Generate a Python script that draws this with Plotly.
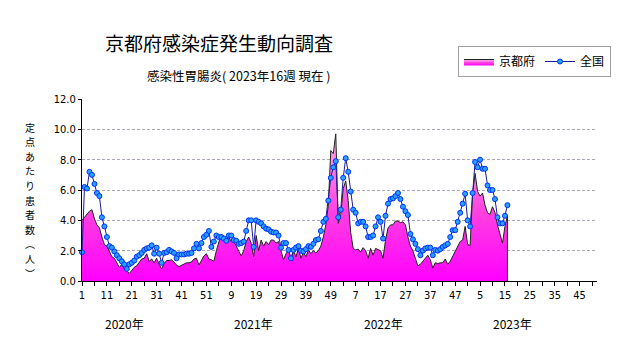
import plotly.graph_objects as go

# Weekly cases per sentinel site, 2020 wk1 .. 2023 wk16 (52 weeks per year on the axis)
kyoto = [
    4.0, 4.2, 4.4, 4.6, 4.7, 4.1, 3.7, 3.5, 2.9, 2.4,
    2.3, 2.0, 1.6, 1.5, 1.2, 0.9, 1.1, 0.8, 0.65, 0.5,
    0.7, 0.9, 1.0, 1.2, 1.45, 1.5, 1.8, 1.3, 1.45, 1.2,
    1.5, 1.1, 0.8, 1.15, 1.35, 1.35, 1.4, 1.25, 1.05, 0.95,
    1.05, 1.15, 1.2, 1.2, 1.25, 1.45, 1.5, 1.05, 1.35, 1.65,
    1.8, 1.45, 1.4, 1.3, 2.0, 2.6, 3.1, 2.7, 2.8, 2.9,
    2.6, 2.6, 2.3, 2.0, 1.65, 2.0, 2.6, 2.9, 2.5, 1.6,
    3.0, 2.0, 2.7, 2.3, 2.6, 2.4, 2.7, 2.7, 2.5, 2.6,
    2.05, 1.4, 1.8, 2.05, 1.4, 2.0, 1.6, 2.15, 1.5, 1.9,
    1.6, 2.05, 1.8, 2.0, 1.85, 2.0, 2.3, 2.9, 3.7, 5.0,
    8.6, 8.4, 9.7, 3.8, 4.4, 6.1, 6.6, 5.3, 3.2, 2.15,
    2.05, 2.1, 1.9, 2.2, 2.0, 1.5, 2.15, 1.7, 2.15, 2.1,
    2.0, 1.5, 2.7, 3.5, 3.7, 3.7, 3.95, 3.95, 3.85, 3.9,
    3.7, 2.9, 2.3, 2.0, 1.5, 1.0, 1.1, 1.3, 1.5, 1.7,
    1.4, 0.85, 1.2, 1.15, 1.2, 1.2, 1.45, 1.1, 1.3, 1.6,
    2.0, 2.3, 2.6, 2.7, 3.6, 2.4, 2.35, 5.8, 7.1, 5.9,
    5.6, 5.8, 5.0, 4.5, 4.4, 4.9, 4.5, 3.7, 3.0, 2.5,
    3.6, 4.3,
]

national = [
    1.9, 6.2, 6.1, 7.2, 7.0, 6.4, 5.8, 5.6, 4.2, 3.6,
    2.9, 2.3, 2.2, 1.95, 1.7, 1.5, 1.3, 1.1, 0.8, 1.1,
    1.2, 1.35, 1.6, 1.7, 1.85, 2.05, 2.15, 2.2, 2.35, 1.8,
    2.2, 1.8, 1.2, 1.85, 1.9, 2.05, 1.95, 1.85, 1.5, 1.75,
    1.75, 1.75, 1.8, 1.8, 1.85, 2.15, 2.45, 2.15, 2.5, 2.9,
    3.05, 3.3, 2.25, 2.6, 3.0, 2.9, 2.9, 2.8, 2.65, 3.0,
    3.0, 2.7, 2.65, 2.45, 2.5, 2.6, 3.3, 4.0, 4.0, 2.25,
    4.0, 3.9, 3.8, 3.6, 3.45, 3.4, 3.25, 3.2, 3.2, 3.0,
    2.2, 2.5, 2.5, 2.05, 1.5, 2.05, 2.2, 2.3, 2.0, 1.95,
    2.1, 2.3, 2.25, 2.45, 2.7, 2.75, 3.3, 3.9, 4.1, 5.3,
    6.8, 7.5, 7.9, 4.2, 4.7, 6.8, 8.1, 7.2, 5.9, 4.7,
    4.5, 3.8, 3.9, 3.9, 3.6, 2.9, 2.9, 3.0, 3.6, 4.2,
    3.9, 2.8, 4.3, 5.1, 5.4, 5.45, 5.6, 5.8, 5.4, 4.9,
    4.6, 4.35, 3.1, 2.75, 2.45, 2.1, 1.7, 2.0, 2.15, 2.2,
    2.2, 1.7, 2.05, 2.0, 2.1, 2.25, 2.35, 2.45, 2.9, 3.35,
    3.35, 3.9, 4.5, 5.1, 5.75, 4.0, 3.6, 5.8, 7.85, 7.5,
    8.0, 7.4, 7.4, 6.3, 6.0, 6.0, 5.4, 4.2, 3.8, 3.8,
    4.3, 5.0,
]

years = ["2020年", "2021年", "2022年", "2023年"]
weeks_per_year = 52
n_axis_weeks = weeks_per_year * len(years)

x = list(range(len(kyoto)))

# tick marks every 5 weeks, labelled every 10 with the week-of-year
tick_vals = list(range(0, n_axis_weeks, 5))
tick_text = [str(v % weeks_per_year + 1) if v % 10 == 0 else "" for v in tick_vals]

jp_font = "Noto Sans CJK JP"
num_font = "Liberation Sans Narrow, DejaVu Sans Condensed, Arial Narrow, sans-serif"

# plot-area geometry in pixels, used to place the free-floating texts
PL, PR, PT, PB = 82, 597, 99, 281
def px(xp):
    return (xp - PL) / (PR - PL)
def py(yp):
    return (PB - yp) / (PB - PT)

fig = go.Figure()

fig.add_trace(go.Scatter(
    x=x, y=kyoto, name="京都府", mode="lines",
    line=dict(color="#222222", width=1),
    fill="tozeroy",
    fillgradient=dict(
        type="vertical", start=0, stop=10,
        colorscale=[[0, "#ff00ff"], [0.45, "#ff40e0"], [1, "#ffb8ec"]],
    ),
))

fig.add_trace(go.Scatter(
    x=x, y=national, name="全国", mode="lines+markers",
    line=dict(color="#1a1a9a", width=1),
    marker=dict(symbol="circle", size=5, color="#2aa0ff",
                line=dict(color="#0030ff", width=1)),
    cliponaxis=False,
))

# closing edge of the filled area at the latest week
fig.add_shape(type="line", xref="x", yref="y",
              x0=x[-1], x1=x[-1], y0=0, y1=kyoto[-1],
              line=dict(color="#222222", width=1))

# year captions under the week axis
for k, yr in enumerate(years):
    fig.add_annotation(x=k * weeks_per_year + 17, y=py(323), xref="x", yref="paper",
                       text=yr, showarrow=False, yanchor="middle",
                       font=dict(family=jp_font, size=12, color="#000"))

fig.add_annotation(x=px(103), y=py(42), xref="paper", yref="paper",
                   xanchor="left", yanchor="middle", showarrow=False,
                   text="京都府感染症発生動向調査",
                   font=dict(family=jp_font, size=19, color="#000"))

fig.add_annotation(x=px(145), y=py(75), xref="paper", yref="paper",
                   xanchor="left", yanchor="middle", showarrow=False,
                   text="感染性胃腸炎( 2023年16週 現在 )",
                   font=dict(family=jp_font, size=12.5, color="#000"))

# vertical axis caption, one glyph per row, top to bottom
ytitle_chars = ["定", "点", "あ", "た", "り", "患", "者", "数", "︵", "人", "︶"]
for k, ch in enumerate(ytitle_chars):
    fig.add_annotation(x=px(30), y=py(127 + k * 14.6), xref="paper", yref="paper",
                       text=ch, showarrow=False, xanchor="center", yanchor="middle",
                       borderpad=0,
                       font=dict(family=jp_font, size=10, color="#000"))

fig.update_layout(
    width=631, height=347,
    margin=dict(l=PL, r=631 - PR, t=PT, b=347 - PB),
    paper_bgcolor="white", plot_bgcolor="white",
    showlegend=True,
    legend=dict(orientation="h", x=px(458), y=py(46), xanchor="left", yanchor="top",
                bordercolor="#a0a0a0", borderwidth=1, bgcolor="white",
                font=dict(family=jp_font, size=12, color="#000"),
                itemwidth=30, tracegroupgap=0),
    xaxis=dict(range=[0, n_axis_weeks - 1], tickmode="array",
               tickvals=tick_vals, ticktext=tick_text,
               ticks="outside", ticklen=4, tickcolor="#000",
               showline=True, linecolor="#000", linewidth=1,
               showgrid=False, zeroline=False,
               tickfont=dict(family=num_font, size=11, color="#000")),
    yaxis=dict(range=[0, 12], dtick=2, tickformat=".1f",
               ticks="outside", ticklen=3, tickcolor="#000",
               showline=True, linecolor="#000", linewidth=1,
               showgrid=True, gridcolor="#b0a6b8", griddash="3px,2px", gridwidth=1,
               zeroline=False,
               tickfont=dict(family=num_font, size=11, color="#000")),
)

fig.write_html("out.html")
